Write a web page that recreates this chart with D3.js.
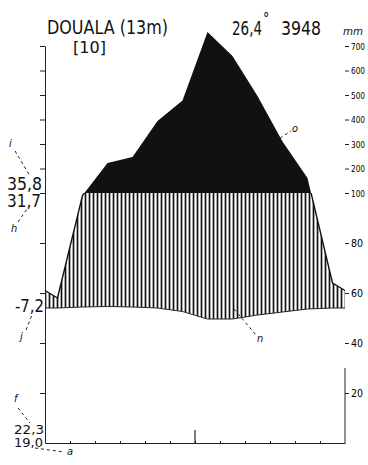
<!DOCTYPE html>
<html>
<head>
<meta charset="utf-8">
<script src="https://cdn.jsdelivr.net/npm/d3@7"></script>
<style>
  body { margin: 0; background: #fff; }
  svg { display: block; font-family: "DejaVu Sans Condensed", "Liberation Sans Narrow", "Liberation Sans", sans-serif; }
</style>
</head>
<body>
<div id="chart"></div>
<script>
// climate diagram, Douala
var months = ["Jan", "Feb", "Mar", "Apr", "May", "Jun", "Jul", "Aug", "Sep", "Oct", "Nov", "Dec"];
var temperature = [27.0, 27.2, 27.3, 27.2, 27.0, 26.3, 24.8, 24.8, 25.6, 26.2, 26.8, 27.0];
var precipitation = [58, 99, 222, 247, 394, 478, 757, 659, 496, 310, 161, 64];

var rightTicks = [20, 40, 60, 80, 100, 200, 300, 400, 500, 600, 700];
var station = "DOUALA (13m)";
var years = "[10]";
var annualTemp = "26,4";
var annualPrec = "3948";
var sideLabels = ["35,8", "31,7", "-7,2", "22,3", "19,0"];
var keyLetters = ["i", "h", "j", "f", "a", "o", "n"];

var width = 368, height = 465;
var left = 45, right = 345, bottom = 443;

var svg = d3.select("#chart")
  .append("svg")
    .attr("width", width)
    .attr("height", height);

var x = d3.scaleLinear().domain([0, 12]).range([left, right]);
var yT = d3.scaleLinear().domain([0, 50]).range([bottom, 193]);
var yP = d3.scaleLinear().domain([0, 100, 700]).range([bottom, 193, 46]);

// nodes: edges take the mean of Dec and Jan
function nodes(vals) {
  var edge = (vals[0] + vals[11]) / 2;
  var out = [{m: 0, v: edge}];
  vals.forEach(function(v, i) { out.push({m: i + 0.5, v: v}); });
  out.push({m: 12, v: edge});
  return out;
}
var tN = nodes(temperature), pN = nodes(precipitation);
var both = tN.map(function(d, i) { return {m: d.m, t: d.v, p: pN[i].v}; });

var defs = svg.append("defs");
defs.append("pattern")
    .attr("id", "hatch")
    .attr("patternUnits", "userSpaceOnUse")
    .attr("width", 4).attr("height", 10)
  .append("line")
    .attr("x1", 1.5).attr("x2", 1.5).attr("y1", 0).attr("y2", 10)
    .attr("stroke", "#111").attr("stroke-width", 1.7);
defs.append("clipPath").attr("id", "below100")
  .append("rect").attr("x", 0).attr("y", yP(100)).attr("width", width).attr("height", height);
defs.append("clipPath").attr("id", "above100")
  .append("rect").attr("x", 0).attr("y", 0).attr("width", width).attr("height", yP(100));

// humid season (hatched)
svg.append("path")
  .datum(both)
  .attr("clip-path", "url(#below100)")
  .attr("fill", "url(#hatch)")
  .attr("d", d3.area()
    .x(function(d) { return x(d.m); })
    .y0(function(d) { return yT(d.t); })
    .y1(function(d) { return yP(d.p); }));

// perhumid season (black, > 100 mm)
svg.append("path")
  .datum(pN)
  .attr("clip-path", "url(#above100)")
  .attr("fill", "#111")
  .attr("d", d3.area()
    .x(function(d) { return x(d.m); })
    .y0(yP(100))
    .y1(function(d) { return yP(d.v); }));

svg.append("path")
  .datum(pN)
  .attr("clip-path", "url(#below100)")
  .attr("fill", "none").attr("stroke", "#111").attr("stroke-width", 1.4)
  .attr("d", d3.line().x(function(d) { return x(d.m); }).y(function(d) { return yP(d.v); }));

svg.append("path")
  .datum(tN)
  .attr("fill", "none").attr("stroke", "#222").attr("stroke-width", 1)
  .attr("d", d3.line().x(function(d) { return x(d.m); }).y(function(d) { return yT(d.v); }));

// axes
svg.append("g")
  .attr("transform", "translate(" + left + ",0)")
  .call(d3.axisLeft(yP).tickValues(rightTicks).tickFormat("").tickSize(5).tickSizeOuter(0));

var rightAxis = svg.append("g")
  .attr("transform", "translate(" + right + ",0)")
  .call(d3.axisRight(yP).tickValues(rightTicks).tickSize(4).tickPadding(2).tickSizeOuter(0));
rightAxis.select(".domain").remove();
rightAxis.selectAll("text")
  .attr("font-size", function(d) { return d >= 100 ? 9.5 : 11; })
  .attr("textLength", function(d) { return d >= 100 ? 14 : 12; })
  .attr("lengthAdjust", "spacingAndGlyphs")
  .attr("font-family", "DejaVu Sans Condensed, Liberation Sans Narrow, sans-serif");
svg.append("line")
  .attr("x1", right).attr("x2", right)
  .attr("y1", 368).attr("y2", bottom)
  .attr("stroke", "#222").attr("stroke-width", 1);

var bottomAxis = svg.append("g")
  .attr("transform", "translate(0," + bottom + ")")
  .call(d3.axisTop(x).tickValues(d3.range(1, 12)).tickFormat("").tickSize(2).tickSizeOuter(0));
bottomAxis.append("line")
  .attr("x1", x(6)).attr("x2", x(6)).attr("y1", 0).attr("y2", -13)
  .attr("stroke", "currentColor");

svg.selectAll(".domain, .tick line").attr("stroke", "#222");

// header texts
function txt(s, xx, yy, size, len, style) {
  return svg.append("text")
    .attr("x", xx).attr("y", yy)
    .attr("font-size", size)
    .attr("font-style", style || "normal")
    .attr("textLength", len)
    .attr("lengthAdjust", "spacingAndGlyphs")
    .attr("fill", "#111")
    .text(s);
}
txt(station, 47, 34, 19, 121);
txt(years, 73, 53, 16, 33);
var tHead = svg.append("text")
  .attr("x", 232).attr("y", 35).attr("font-size", 20).attr("fill", "#111");
tHead.append("tspan").attr("textLength", 30).attr("lengthAdjust", "spacingAndGlyphs").text(annualTemp);
tHead.append("tspan").attr("font-size", 14).attr("dy", -12).attr("dx", 1).text("°");
txt(annualPrec, 281, 35, 20, 40);
txt("mm", 343, 35, 11, 20, "italic");

// side values: stacked pairs as one text each
function pair(a, b, xx, y1, y2, size, len) {
  var t = svg.append("text").attr("font-size", size).attr("fill", "#111");
  t.append("tspan").attr("x", xx).attr("y", y1)
    .attr("textLength", len).attr("lengthAdjust", "spacingAndGlyphs").text(a);
  t.append("tspan").attr("x", xx).attr("y", y2)
    .attr("textLength", len - 1).attr("lengthAdjust", "spacingAndGlyphs").text(b);
}
pair(sideLabels[0], sideLabels[1], 7, 190, 207, 17, 35);
txt(sideLabels[2], 15, 312, 17, 29);
pair(sideLabels[3], sideLabels[4], 14, 434, 447, 13, 30);

// key letters with dashed leaders
var keys = [
  {l: keyLetters[0], tx: 9,   ty: 147, x1: 15,  y1: 151, x2: 30,  y2: 176},
  {l: keyLetters[1], tx: 11,  ty: 232, x1: 18,  y1: 222, x2: 27,  y2: 209},
  {l: keyLetters[2], tx: 20,  ty: 340, x1: 26,  y1: 330, x2: 32,  y2: 315},
  {l: keyLetters[3], tx: 14,  ty: 402, x1: 18,  y1: 408, x2: 30,  y2: 423},
  {l: keyLetters[4], tx: 67,  ty: 455, x1: 35,  y1: 448, x2: 64,  y2: 452},
  {l: keyLetters[5], tx: 292, ty: 132, x1: 280, y1: 138, x2: 291, y2: 131},
  {l: keyLetters[6], tx: 257, ty: 342, x1: 234, y1: 309, x2: 256, y2: 335}
];
keys.forEach(function(k) {
  svg.append("line")
    .attr("x1", k.x1).attr("y1", k.y1).attr("x2", k.x2).attr("y2", k.y2)
    .attr("stroke", "#222").attr("stroke-width", 1).attr("stroke-dasharray", "3,3");
  svg.append("text")
    .attr("x", k.tx).attr("y", k.ty)
    .attr("font-size", 11).attr("font-style", "italic").attr("fill", "#111")
    .text(k.l);
});
</script>
</body>
</html>
